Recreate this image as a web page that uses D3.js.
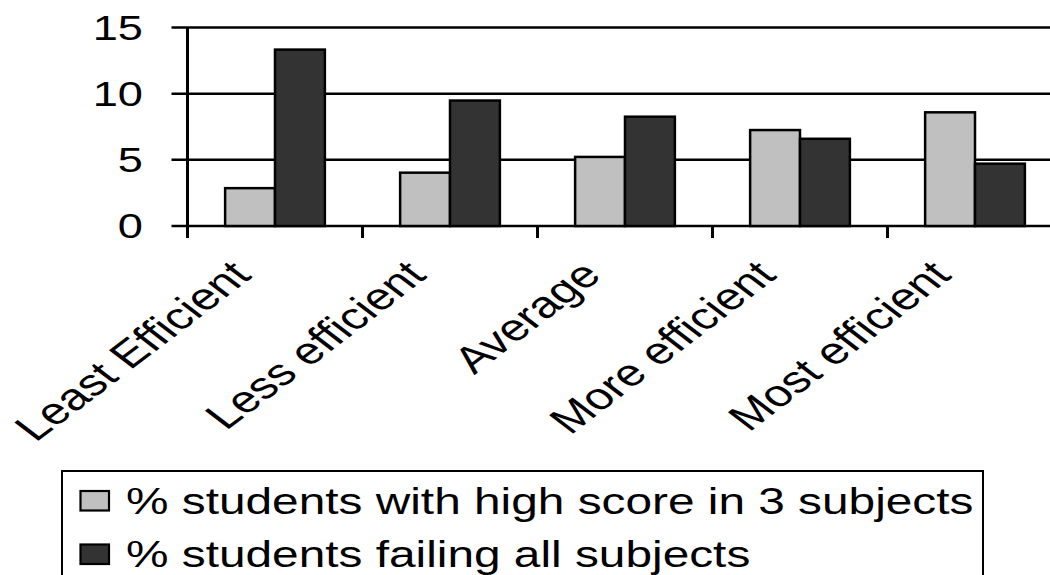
<!DOCTYPE html>
<html><head><meta charset="utf-8">
<script src="https://cdn.jsdelivr.net/npm/d3@7"></script>
<style>
html,body{margin:0;padding:0;background:#fff;}
svg{display:block;font-family:"Liberation Sans",Arial,sans-serif;}
</style></head>
<body>
<svg id="c" width="1050" height="575"></svg>
<script>
const categories = ["Least Efficient","Less efficient","Average","More efficient","Most efficient"];
const seriesNames = ["% students with high score in 3 subjects","% students failing all subjects"];
const highScore = [2.86, 4.03, 5.22, 7.25, 8.59];
const failingAll = [13.33, 9.48, 8.26, 6.59, 4.71];
const yTicks = [0, 5, 10, 15];
const colors = ["#c0c0c0", "#333333"];

(function () {
const svg = d3.select("#c");
const SX = 1.31; // horizontal stretch of the original picture
const pLeft = 187.5, pRight = 1062.5, pTop = 27.5, pBottom = 226;
const x = d3.scaleBand().domain(categories).range([pLeft, pRight]).paddingInner(0.43).paddingOuter(0.215);
const x0 = d3.scaleBand().domain(categories).range([pLeft, pRight]);
const xs = d3.scaleBand().domain([0,1]).range([0, x.bandwidth()]);
const y = d3.scaleLinear().domain([0, 15]).range([pBottom, pTop]);

svg.append("g").selectAll("line").data(yTicks).join("line")
  .attr("x1", pLeft - 16).attr("x2", 1050)
  .attr("y1", d => y(d)).attr("y2", d => y(d))
  .attr("stroke", "#000").attr("stroke-width", 2.5);

const data = [highScore, failingAll];
data.forEach((vals, si) => {
  svg.append("g").selectAll("rect").data(vals).join("rect")
    .attr("x", (d, i) => x(categories[i]) + xs(si))
    .attr("y", d => y(d))
    .attr("width", xs.bandwidth())
    .attr("height", d => y(0) - y(d))
    .attr("fill", colors[si]).attr("stroke", "#000").attr("stroke-width", 2.5);
});

svg.append("line").attr("x1", pLeft).attr("x2", pLeft).attr("y1", y(15)).attr("y2", pBottom + 12)
  .attr("stroke", "#000").attr("stroke-width", 3);

const bounds = categories.map(c => x0(c)).concat([pRight]);
svg.append("g").selectAll("line").data(bounds).join("line")
  .attr("x1", d => d).attr("x2", d => d).attr("y1", pBottom).attr("y2", pBottom + 12)
  .attr("stroke", "#000").attr("stroke-width", 3);

svg.append("g").selectAll("text").data(yTicks).join("text")
  .attr("transform", d => `translate(143,${y(d)}) scale(${SX},1)`).attr("dy", "0.35em")
  .attr("text-anchor", "end").attr("font-size", 34.5).text(d => d);

svg.append("g").selectAll("text").data(categories).join("text")
  .attr("transform", d => `translate(${x0(d) + x0.bandwidth()/2 - 22},${pBottom + 51}) scale(${SX},1) rotate(-45)`)
  .attr("text-anchor", "end").attr("font-size", 37.5).text(d => d);

const lg = svg.append("g");
lg.append("rect").attr("x", 62).attr("y", 471).attr("width", 921).attr("height", 130)
  .attr("fill", "none").attr("stroke", "#000").attr("stroke-width", 2);
seriesNames.forEach((n, i) => {
  lg.append("rect").attr("x", 80.5).attr("y", 491 + i*53.5).attr("width", 28.5).attr("height", 19.5)
    .attr("fill", colors[i]).attr("stroke", "#000").attr("stroke-width", 2.2);
  lg.append("text").attr("transform", `translate(126,${513.5 + i*53.5}) scale(${SX},1)`)
    .attr("font-size", 36.5).text(n);
});
})();
</script>
</body></html>
